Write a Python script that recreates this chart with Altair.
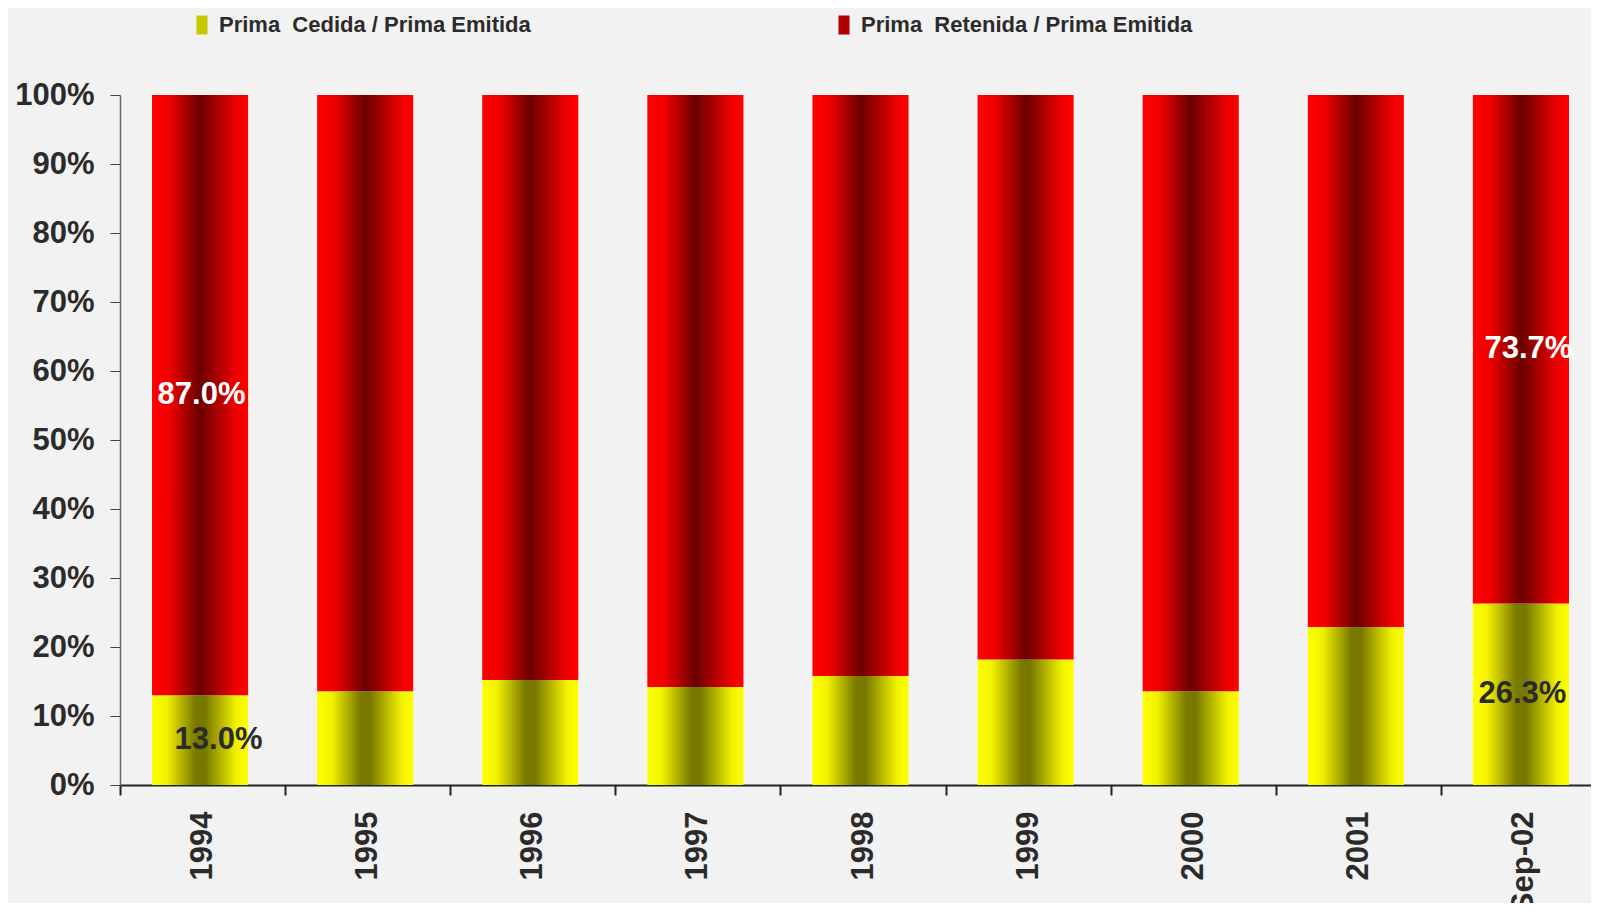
import altair as alt
import pandas as pd

categories = ["1994", "1995", "1996", "1997", "1998", "1999", "2000", "2001", "Sep-02"]
cedida = [13.0, 13.6, 15.2, 14.2, 15.8, 18.2, 13.6, 22.9, 26.3]
retenida = [87.0, 86.4, 84.8, 85.8, 84.2, 81.8, 86.4, 77.1, 73.7]
label_cedida = ["13.0%", "", "", "", "", "", "", "", "26.3%"]
label_retenida = ["87.0%", "", "", "", "", "", "", "", "73.7%"]
series = ["Prima\u00a0 Cedida / Prima Emitida", "Prima\u00a0 Retenida / Prima Emitida"]
y_ticks = [0, 10, 20, 30, 40, 50, 60, 70, 80, 90, 100]

rows = []
for c, a, b, la, lb in zip(categories, cedida, retenida, label_cedida, label_retenida):
    rows.append({"cat": c, "series": series[0], "y0": 0.0, "y1": a, "label": la})
    rows.append({"cat": c, "series": series[1], "y0": a, "y1": a + b, "label": lb})
df = pd.DataFrame(rows)
df["mid"] = (df["y0"] + df["y1"]) / 2

FONT = "Liberation Sans, Arial, sans-serif"
TXT = "#2b2b2b"

yellow = alt.Gradient(
    gradient="linear", x1=0, x2=1, y1=0, y2=0,
    stops=[
        alt.GradientStop(color="#ffff00", offset=0),
        alt.GradientStop(color="#f2f200", offset=0.15),
        alt.GradientStop(color="#7a7a00", offset=0.45),
        alt.GradientStop(color="#777700", offset=0.55),
        alt.GradientStop(color="#f2f200", offset=0.88),
        alt.GradientStop(color="#ffff00", offset=1),
    ],
)
red = alt.Gradient(
    gradient="linear", x1=0, x2=1, y1=0, y2=0,
    stops=[
        alt.GradientStop(color="#ff0000", offset=0),
        alt.GradientStop(color="#f00000", offset=0.18),
        alt.GradientStop(color="#6b0000", offset=0.5),
        alt.GradientStop(color="#b00000", offset=0.7),
        alt.GradientStop(color="#f00000", offset=0.88),
        alt.GradientStop(color="#ff0000", offset=1),
    ],
)

x_enc = alt.X(
    "cat:N", sort=categories, title=None,
    scale=alt.Scale(paddingInner=0, paddingOuter=0),
    axis=alt.Axis(
        labelAngle=270, tickBand="extent", tickSize=10, tickColor="#222",
        domainColor="#222", domainWidth=2, tickWidth=2,
        labelFont=FONT, labelFontSize=31, labelFontWeight="bold",
        labelColor=TXT, labelPadding=16, grid=False,
    ),
)
y_enc = alt.Y(
    "y1:Q", title=None,
    scale=alt.Scale(domain=[0, 100], nice=False),
    axis=alt.Axis(
        values=y_ticks, labelExpr="datum.value + '%'", grid=False,
        tickSize=10, tickColor="#444", domainColor="#666", domainWidth=1.5,
        labelFont=FONT, labelFontSize=31, labelFontWeight="bold",
        labelColor=TXT, labelPadding=16,
    ),
)

base = alt.Chart(df)
bw = alt.RelativeBandSize(0.582)
is_ced = alt.datum.series == series[0]
is_ret = alt.datum.series == series[1]

bars_y = base.transform_filter(is_ced).mark_bar(
    color=yellow, width=bw, xOffset=-2.5
).encode(x=x_enc, y=y_enc, y2="y0:Q")

bars_r = base.transform_filter(is_ret).mark_bar(
    color=red, width=bw, xOffset=-2.5
).encode(x=x_enc, y=y_enc, y2="y0:Q")


def labels(cond, cat, color, dx):
    return base.transform_filter(cond).transform_filter(alt.datum.cat == cat).mark_text(
        font=FONT, fontSize=31, fontWeight="bold", color=color, dx=dx
    ).encode(x=x_enc, y=alt.Y("mid:Q"), text="label:N")


lab_y1 = labels(is_ced, "1994", TXT, 16)
lab_y2 = labels(is_ced, "Sep-02", TXT, -1)
lab_r1 = labels(is_ret, "1994", "white", -1)
lab_r2 = labels(is_ret, "Sep-02", "white", 5)

legend_layer = base.mark_point(filled=True, opacity=0).encode(
    x=x_enc, y=y_enc,
    color=alt.Color(
        "series:N",
        scale=alt.Scale(domain=series, range=["#c8c800", "#b00000"]),
        legend=alt.Legend(
            title=None, orient="none", legendX=71, legendY=-81,
            direction="horizontal", padding=0,
            symbolType="M-0.58,-1H0.58V1H-0.58Z", symbolSize=361,
            symbolOpacity=1, symbolStrokeWidth=0,
            labelFont=FONT, labelFontSize=22, labelFontWeight="bold",
            labelColor=TXT, labelOffset=6, columnPadding=302, labelLimit=0,
        ),
    ),
)

chart = alt.layer(
    bars_y, bars_r, lab_y1, lab_y2, lab_r1, lab_r2, legend_layer
).properties(
    width=1486, height=690,
    autosize=alt.AutoSizeParams(type="none"),
    padding={"left": 112, "top": 87, "right": -15, "bottom": 118},
    background="#f2f2f2",
).configure_view(stroke=None)

chart.save("out.html", embed_options={"renderer": "svg", "actions": False})
